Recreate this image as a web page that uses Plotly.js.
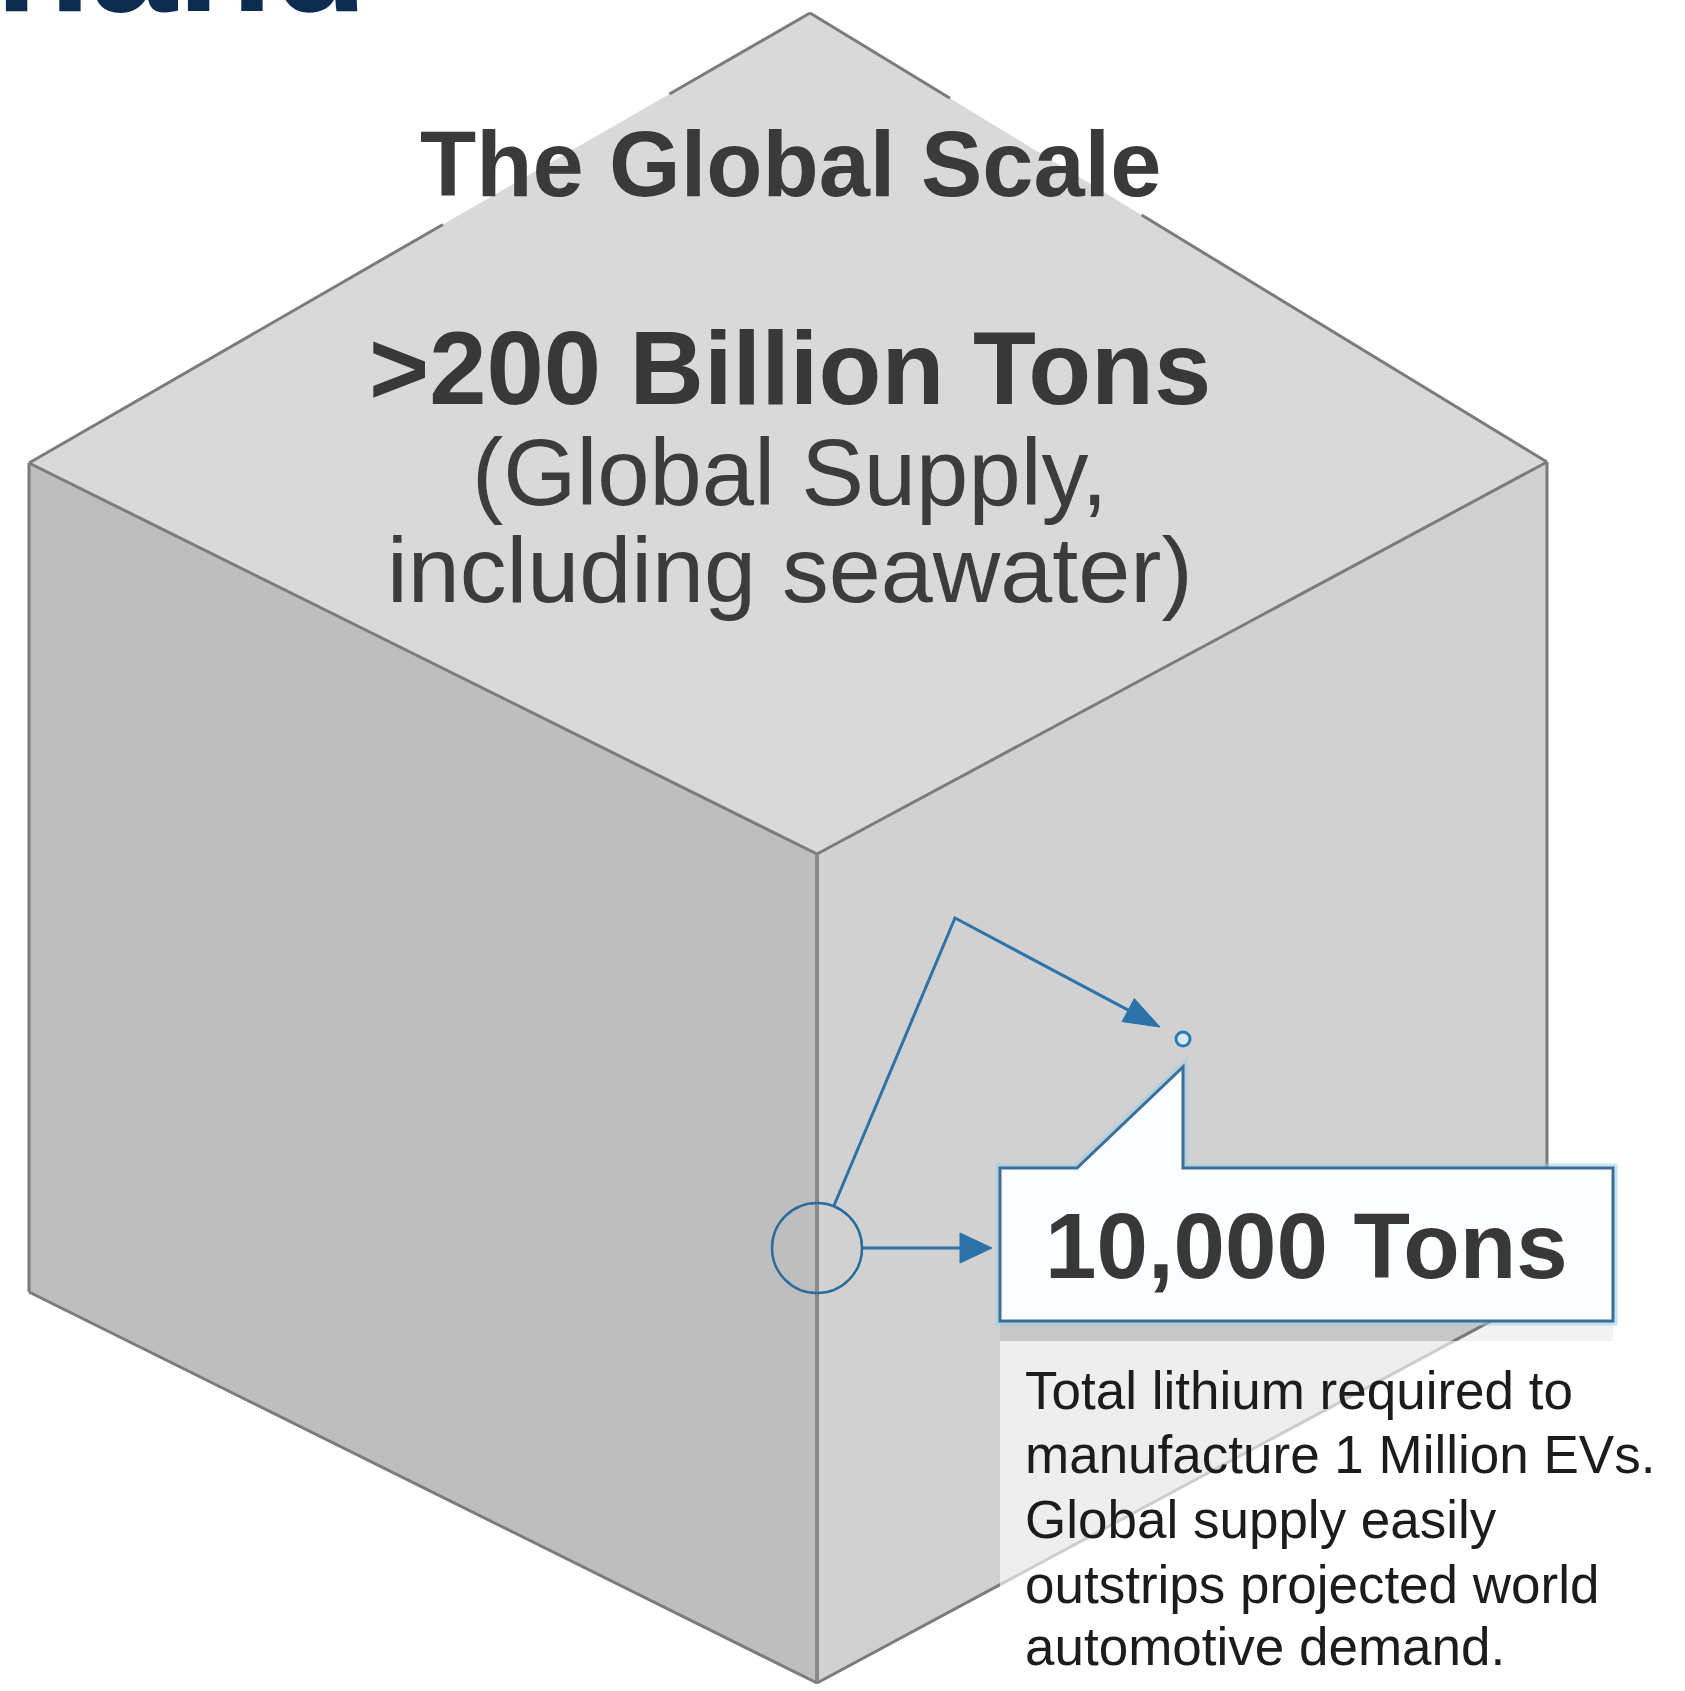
<!DOCTYPE html>
<html><head><meta charset="utf-8">
<script src="https://cdn.plot.ly/plotly-3.0.1.min.js"></script>
<style>html,body{margin:0;padding:0;background:#fff;overflow:hidden}#chart{width:1685px;height:1691px}</style>
</head><body><div id="chart"></div>
<script>
// ---------------- data ----------------
const supplyTons = [200e9];
const demandTons = [10000];
const evCount = [1e6];
const headerFragment = ['hand'];
const panelTitle = ['The Global Scale'];
const supplyCaption = ['(Global Supply,', 'including seawater)'];
const demandCaption = ['Total lithium required to', 'manufacture 1 Million EVs.', 'Global supply easily', 'outstrips projected world', 'automotive demand.'];

// ---------------- geometry (layout only) ----------------
const W = 1685, H = 1691;
const V = { T:[810,13], L:[29,463], R:[1547,462], F:[817,854] };
const DROP = 829;
const down = p => [p[0], p[1] + DROP];
const P = pts => 'M ' + pts.map(p => p[0] + ',' + p[1]).join(' L ') + ' Z';
const lerp = (a, b, t) => [a[0] + (b[0]-a[0])*t, a[1] + (b[1]-a[1])*t];

const edge = '#7b7b7b';
const blue = '#2b73a8';
const shapes = [];
const add = s => { s.layer = 'below'; shapes.push(s); };
// faces
add({type:'path', path:P([V.L, V.F, down(V.F), down(V.L)]), fillcolor:'#bebebe', line:{width:0}});
add({type:'path', path:P([V.F, V.R, down(V.R), down(V.F)]), fillcolor:'#d1d1d1', line:{width:0}});
add({type:'path', path:P([V.T, V.R, V.F, V.L]), fillcolor:'#d9d9d9', line:{width:0}});
// edges
const seg = (a, b, w, c) => add({type:'line', x0:a[0], y0:a[1], x1:b[0], y1:b[1], line:{color:c||edge, width:w||3}});
seg(V.L, V.F); seg(V.F, V.R);
seg(V.F, down(V.F), 4, '#8a8a8a');
seg(V.L, down(V.L)); seg(V.R, down(V.R));
seg(down(V.L), down(V.F)); seg(down(V.F), down(V.R));
seg(V.T, lerp(V.T, V.L, 0.18)); seg(lerp(V.T, V.L, 0.47), V.L);
seg(V.T, lerp(V.T, V.R, 0.19)); seg(lerp(V.T, V.R, 0.45), V.R);

// text backdrop under the callout
const box = {x0:1000, x1:1613, y0:1168, y1:1321};
add({type:'rect', x0:box.x0, x1:box.x1, y0:box.y1, y1:box.y1+20, fillcolor:'rgba(90,90,90,0.08)', line:{width:0}});
add({type:'rect', x0:box.x0, x1:W, y0:box.y1+20, y1:H, fillcolor:'rgba(255,255,255,0.62)', line:{width:0}});

// zoom lens and connectors
const lens = {cx:817, cy:1248, r:45};
const dot = [1183, 1039];
const bend = [955, 918];
const tip1 = [1160, 1027];
const tip2 = [box.x0 - 8, lens.cy];
function head(tip, from, len, hw) {
  const dx = tip[0]-from[0], dy = tip[1]-from[1], d = Math.hypot(dx, dy);
  const u = [dx/d, dy/d], n = [-u[1], u[0]];
  const b = [tip[0]-u[0]*len, tip[1]-u[1]*len];
  add({type:'path', path:P([tip, [b[0]+n[0]*hw, b[1]+n[1]*hw], [b[0]-n[0]*hw, b[1]-n[1]*hw]]), fillcolor:blue, line:{color:blue, width:1}});
  return b;
}
const start1 = [lens.cx + lens.r*Math.cos(-1.19), lens.cy + lens.r*Math.sin(-1.19)];
const b1 = head(tip1, bend, 36, 13);
add({type:'path', path:'M '+start1.join(',')+' L '+bend.join(',')+' L '+b1.join(','), line:{color:blue, width:3}});
const b2 = head(tip2, [lens.cx, lens.cy], 32, 15);
add({type:'line', x0:lens.cx+lens.r, y0:lens.cy, x1:b2[0], y1:b2[1], line:{color:blue, width:3}});
add({type:'circle', x0:lens.cx-lens.r, x1:lens.cx+lens.r, y0:lens.cy-lens.r, y1:lens.cy+lens.r, line:{color:'#2a6c9c', width:2.5}, fillcolor:'rgba(255,255,255,0)'});

// callout box with pointer
const calloutPath = P([[box.x0,box.y0],[1077,box.y0],[dot[0],1067],[dot[0],box.y0],[box.x1,box.y0],[box.x1,box.y1],[box.x0,box.y1]]);
add({type:'path', path:calloutPath, fillcolor:'rgba(0,0,0,0)', line:{color:'rgba(150,205,235,0.55)', width:9}});
add({type:'path', path:calloutPath, fillcolor:'#fbfdff', line:{color:'#3c6e96', width:3}});

// ---------------- traces ----------------
const traces = [{
  type:'scatter', mode:'markers', x:[dot[0]], y:[dot[1]],
  customdata: demandTons,
  marker:{size:14, color:'#d6eaf7', line:{color:'#2b7ab5', width:3}},
  hoverinfo:'skip', showlegend:false
}];

// ---------------- text ----------------
const fam = '"Liberation Sans", Arial, Helvetica, sans-serif';
const fmt = n => n.toLocaleString('en-US');
const ann = (text, x, y, size, color, bold, xanchor) => ({
  text: bold ? '<b>' + text + '</b>' : text, x, y, xref:'x', yref:'y', showarrow:false,
  xanchor: xanchor || 'center', yanchor:'middle', borderpad:0,
  font:{family:fam, size, color}
});
const midX = 790;
const annotations = [
  {text:'<b>' + headerFragment[0] + '</b>', x:-6/W, y:1 + 43/H, xref:'paper', yref:'paper', showarrow:false,
   xanchor:'left', yanchor:'middle', borderpad:0, font:{family:fam, size:156, color:'#0d2c50'}},
  ann(panelTitle[0], midX, 164, 92, '#3a3a3a', true),
  ann('&gt;' + (supplyTons[0]/1e9) + ' Billion Tons', midX, 368, 103, '#383838', true),
  ann(supplyCaption[0], midX, 472, 94, '#3c3c3c', false),
  ann(supplyCaption[1], midX, 569, 93.5, '#3c3c3c', false),
  ann(fmt(demandTons[0]) + ' Tons', 1306, 1246, 92.5, '#383838', true)
];
const lineY = [1390, 1454, 1519, 1584, 1646];
demandCaption.forEach((t, i) => annotations.push(ann(t, 1024, lineY[i], 53, '#1c1c1c', false, 'left')));

Plotly.newPlot('chart', traces, {
  width:W, height:H, margin:{l:0, r:0, t:0, b:0},
  paper_bgcolor:'#ffffff', plot_bgcolor:'rgba(0,0,0,0)',
  xaxis:{range:[0, W], visible:false, fixedrange:true},
  yaxis:{range:[H, 0], visible:false, fixedrange:true},
  shapes, annotations, showlegend:false
}, {staticPlot:true});
</script>
</body></html>
